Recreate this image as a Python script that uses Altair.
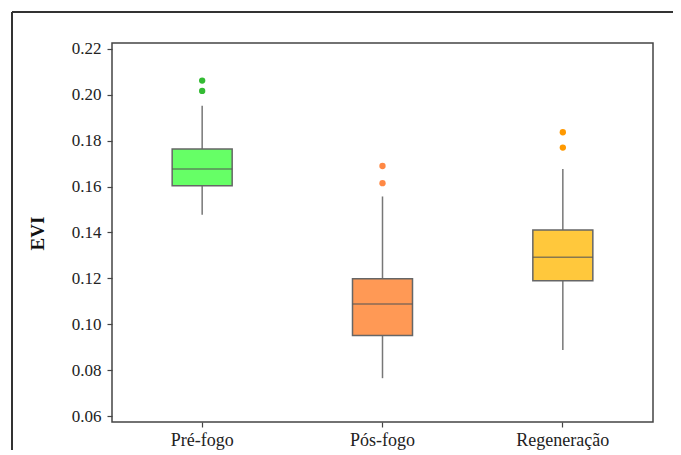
import altair as alt
import pandas as pd

categories = ["Pré-fogo", "Pós-fogo", "Regeneração"]
whisker_low = [0.1477, 0.0765, 0.0888]
q1 = [0.1604, 0.0951, 0.1190]
median = [0.1677, 0.1088, 0.1292]
q3 = [0.1764, 0.1198, 0.1411]
whisker_high = [0.1953, 0.1557, 0.1677]
outlier_cat = ["Pré-fogo", "Pré-fogo", "Pós-fogo", "Pós-fogo", "Regeneração", "Regeneração"]
outlier_val = [0.2062, 0.2017, 0.1690, 0.1615, 0.1837, 0.1770]
y_ticks = [0.06, 0.08, 0.10, 0.12, 0.14, 0.16, 0.18, 0.20, 0.22]

box_colors = ["#66FF66", "#FF9955", "#FFC83C"]
point_colors = ["#33BB33", "#FF8844", "#FF9900"]

stats = pd.DataFrame({
    "cat": categories, "low": whisker_low, "q1": q1,
    "median": median, "q3": q3, "high": whisker_high,
})
outliers = pd.DataFrame({"cat": outlier_cat, "val": outlier_val})

FONT = "Liberation Serif"

x = alt.X("cat:N", sort=categories,
          scale=alt.Scale(paddingInner=0, paddingOuter=0),
          axis=alt.Axis(title=None, labelAngle=0, labelPadding=4, labelFontSize=18))
yscale = alt.Scale(domain=[0.0574, 0.2226], nice=False, zero=False)
yaxis = alt.Axis(values=y_ticks, format=".2f", title="EVI",
                 labelFontSize=17, labelPadding=6,
                 titleAngle=-90, titleX=-75, titleY=190,
                 titleAlign="center", titleBaseline="middle",
                 titleFont=FONT, titleFontSize=19, titleFontWeight="bold",
                 titleColor="#111", grid=False)

base = alt.Chart(stats)

whisker = base.mark_rule(color="#777777", strokeWidth=1.5).encode(
    x=x, y=alt.Y("low:Q", scale=yscale, axis=yaxis), y2="high:Q")

box = base.mark_bar(size=60, stroke="#666666", strokeWidth=1.5).encode(
    x=x, y=alt.Y("q1:Q", scale=yscale), y2="q3:Q",
    color=alt.Color("cat:N", scale=alt.Scale(domain=categories, range=box_colors), legend=None))

med = base.mark_tick(size=60, thickness=1.5, color="#555555").encode(
    x=x, y=alt.Y("median:Q", scale=yscale))

pts = alt.Chart(outliers).mark_circle(size=40, opacity=1).encode(
    x=x, y=alt.Y("val:Q", scale=yscale),
    color=alt.Color("cat:N", scale=alt.Scale(domain=categories, range=point_colors), legend=None))

frame_df = pd.DataFrame({"a": [0]})
frame_top = alt.Chart(frame_df).mark_rule(color="#333333", strokeWidth=2).encode(
    x=alt.value(-100), x2=alt.value(561), y=alt.value(-31), y2=alt.value(-31))
frame_left = alt.Chart(frame_df).mark_rule(color="#333333", strokeWidth=2).encode(
    x=alt.value(-100), x2=alt.value(-100), y=alt.value(-31), y2=alt.value(410))

chart = alt.layer(whisker, box, med, pts, frame_top, frame_left).resolve_scale(
    color="independent"
).properties(
    width=541, height=379,
    autosize=alt.AutoSizeParams(type="none"),
    padding={"left": 104, "top": 35, "right": 20, "bottom": 28},
    background="white",
).configure_view(
    stroke="#444444", strokeWidth=1.5
).configure_axis(
    labelFont=FONT, labelColor="#222222",
    tickColor="#444444", tickSize=5, tickWidth=1.2, domain=False,
)

chart.save("out.html", embed_options={"renderer": "svg", "actions": False})
